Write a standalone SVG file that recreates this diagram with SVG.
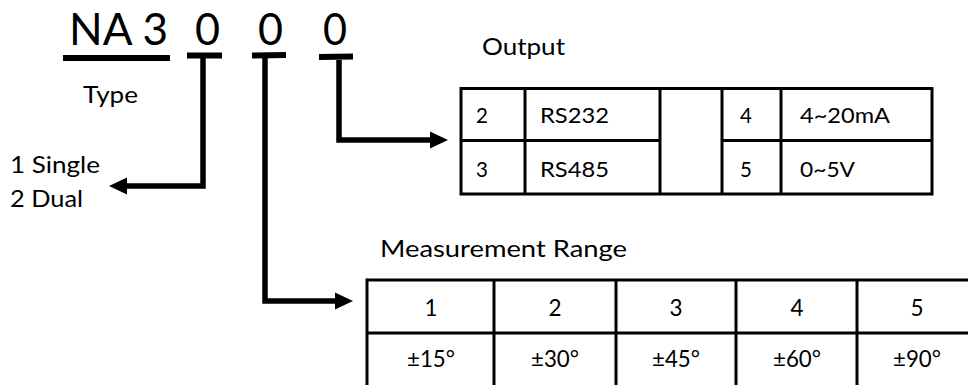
<svg xmlns="http://www.w3.org/2000/svg" width="968" height="385" viewBox="0 0 968 385">
<defs>
<marker id="ah" markerUnits="userSpaceOnUse" markerWidth="18" markerHeight="18" refX="0" refY="8.5" orient="auto" overflow="visible">
<path d="M0,0 L18,8.5 L0,17 Z" fill="#000"/>
</marker>
<style>
text{font-family:Lato,"Open Sans","Liberation Sans",sans-serif;fill:#000}
.big{font-size:44px}
.lbl{font-size:22.5px}
.cell{font-size:20.5px}
.mcell{font-size:22.5px;text-anchor:middle}
.ul{stroke:#000;stroke-width:6;fill:none}
.conn{stroke:#000;stroke-width:5.5;fill:none;stroke-linejoin:miter;marker-end:url(#ah)}
.grid{stroke:#000;stroke-width:3;fill:none}
</style>
</defs>
<rect width="968" height="385" fill="#fff"/>

<g id="code">
<text class="big" x="69" y="45" textLength="99" lengthAdjust="spacingAndGlyphs">NA 3</text>
<text class="big" x="195" y="45" textLength="25" lengthAdjust="spacingAndGlyphs">0</text>
<text class="big" x="258" y="45" textLength="25" lengthAdjust="spacingAndGlyphs">0</text>
<text class="big" x="323" y="45" textLength="24" lengthAdjust="spacingAndGlyphs">0</text>
<line class="ul" x1="63" y1="58" x2="170" y2="58"/>
<line class="ul" x1="187" y1="55.5" x2="222" y2="55.5"/>
<line class="ul" x1="252" y1="55.5" x2="286" y2="55"/>
<line class="ul" x1="319" y1="57" x2="353" y2="56.5"/>
</g>

<g id="type">
<text class="lbl" x="83" y="103" textLength="55" lengthAdjust="spacingAndGlyphs">Type</text>
<text class="lbl" x="10" y="173" textLength="90" lengthAdjust="spacingAndGlyphs">1 Single</text>
<text class="lbl" x="10" y="207" textLength="73" lengthAdjust="spacingAndGlyphs">2 Dual</text>
</g>

<g id="connectors">
<path class="conn" d="M203,55.5 V186 H127"/>
<path class="conn" d="M265,55 V301 H335"/>
<path class="conn" d="M339,60 V140 H430"/>
</g>

<g id="output">
<text class="lbl" x="482" y="55" textLength="83" lengthAdjust="spacingAndGlyphs">Output</text>
<rect class="grid" x="461" y="88.5" width="471" height="105.5"/>
<line class="grid" x1="525" y1="88.5" x2="525" y2="194"/>
<line class="grid" x1="660" y1="88.5" x2="660" y2="194"/>
<line class="grid" x1="722" y1="88.5" x2="722" y2="194"/>
<line class="grid" x1="781" y1="88.5" x2="781" y2="194"/>
<line class="grid" x1="461" y1="140.5" x2="660" y2="140.5"/>
<line class="grid" x1="722" y1="140.5" x2="932" y2="140.5"/>
<text class="cell" x="476" y="123">2</text>
<text class="cell" x="540" y="123" textLength="69" lengthAdjust="spacingAndGlyphs">RS232</text>
<text class="cell" x="476" y="177">3</text>
<text class="cell" x="540" y="177" textLength="69" lengthAdjust="spacingAndGlyphs">RS485</text>
<text class="cell" x="740" y="123">4</text>
<text class="cell" x="800" y="123" textLength="90" lengthAdjust="spacingAndGlyphs">4~20mA</text>
<text class="cell" x="740" y="177">5</text>
<text class="cell" x="800" y="177" textLength="55" lengthAdjust="spacingAndGlyphs">0~5V</text>
</g>

<g id="range">
<text class="lbl" x="380" y="257" textLength="247" lengthAdjust="spacingAndGlyphs">Measurement Range</text>
<line class="grid" x1="367" y1="280" x2="968" y2="280"/>
<line class="grid" x1="367" y1="333" x2="968" y2="333"/>
<line class="grid" x1="367" y1="278.5" x2="367" y2="385"/>
<line class="grid" x1="494" y1="280" x2="494" y2="385"/>
<line class="grid" x1="616" y1="280" x2="616" y2="385"/>
<line class="grid" x1="736" y1="280" x2="736" y2="385"/>
<line class="grid" x1="857" y1="280" x2="857" y2="385"/>
<text class="mcell" x="431" y="316">1</text>
<text class="mcell" x="555" y="316">2</text>
<text class="mcell" x="676" y="316">3</text>
<text class="mcell" x="797" y="316">4</text>
<text class="mcell" x="917" y="316">5</text>
<text class="mcell" x="431" y="367" textLength="48" lengthAdjust="spacingAndGlyphs">±15°</text>
<text class="mcell" x="555" y="367" textLength="48" lengthAdjust="spacingAndGlyphs">±30°</text>
<text class="mcell" x="676" y="367" textLength="48" lengthAdjust="spacingAndGlyphs">±45°</text>
<text class="mcell" x="797" y="367" textLength="48" lengthAdjust="spacingAndGlyphs">±60°</text>
<text class="mcell" x="917" y="367" textLength="48" lengthAdjust="spacingAndGlyphs">±90°</text>
</g>
</svg>
